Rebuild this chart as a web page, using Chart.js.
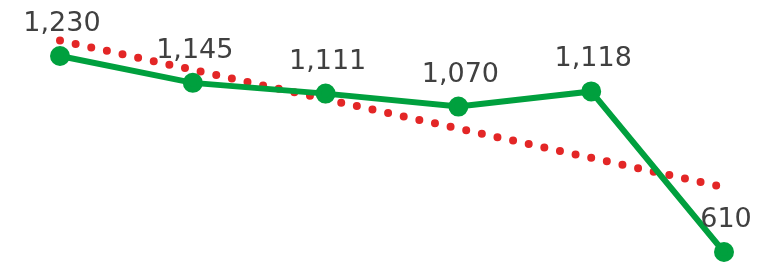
<!DOCTYPE html>
<html>
<head>
<meta charset="utf-8">
<script src="https://cdn.jsdelivr.net/npm/chart.js@4"></script>
<style>
  html, body { margin: 0; padding: 0; background: #fff; }
  #wrap { width: 766px; height: 265px; }
</style>
</head>
<body>
<div id="wrap"><canvas id="chart"></canvas></div>
<script>
// values
const categories = ["1", "2", "3", "4", "5", "6"];
const values = [1230, 1145, 1111, 1070, 1118, 610];
// dotted trend line, only its two ends
const trend = [1279, null, null, null, null, 815];

// draws the number above each point of the green line
const pointLabels = {
  id: "pointLabels",
  afterDatasetsDraw(chart) {
    const ctx = chart.ctx;
    const meta = chart.getDatasetMeta(0);
    ctx.save();
    ctx.font = "27px 'DejaVu Sans'";
    ctx.fillStyle = "#404040";
    ctx.textAlign = "center";
    ctx.textBaseline = "alphabetic";
    meta.data.forEach((pt, i) => {
      ctx.fillText(values[i].toLocaleString("en-US"), pt.x + 2, pt.y - 25);
    });
    ctx.restore();
  }
};

new Chart(document.getElementById("chart"), {
  type: "line",
  data: {
    labels: categories,
    datasets: [
      {
        data: values,
        borderColor: "#00A03E",
        backgroundColor: "#00A03E",
        borderWidth: 6,
        pointRadius: 7,
        pointHoverRadius: 7,
        clip: false,
        tension: 0,
        order: 1
      },
      {
        data: trend,
        borderColor: "#E32626",
        borderWidth: 8,
        borderCapStyle: "round",
        borderDash: [0, 16],
        pointRadius: 0,
        spanGaps: true,
        clip: false,
        tension: 0,
        order: 2
      }
    ]
  },
  options: {
    responsive: true,
    maintainAspectRatio: false,
    animation: false,
    layout: { padding: { left: 60, right: 42, top: 56, bottom: 12 } },
    plugins: { legend: { display: false }, tooltip: { enabled: false } },
    scales: {
      x: { display: false, offset: false },
      y: { display: false, min: 610, max: 1230 }
    }
  },
  plugins: [pointLabels]
});
</script>
</body>
</html>
